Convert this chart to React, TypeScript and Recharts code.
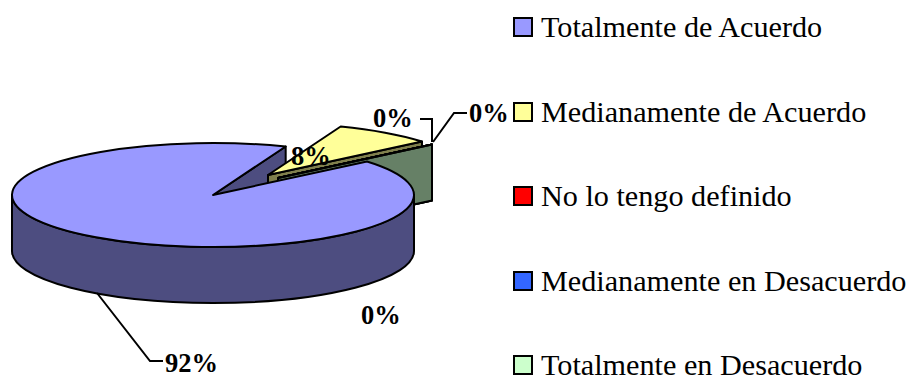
import React from 'react'
import { PieChart, Pie, Legend } from 'recharts'

const CATEGORIES = [
  'Totalmente de Acuerdo',
  'Medianamente de Acuerdo',
  'No lo tengo definido',
  'Medianamente en Desacuerdo',
  'Totalmente en Desacuerdo',
]
const VALUES = [92, 8, 0, 0, 0]
const COLORS = ['#9999FF', '#FFFF99', '#FF0000', '#3366FF', '#CCFFCC']
const WALL_COLORS = ['#4D4D80', '#80804D', '#800000', '#1A3380', '#668066']

const chartData = CATEGORIES.map((name, i) => ({ name, value: VALUES[i] }))

const SERIF = '"Liberation Serif", "Times New Roman", serif'
const FIRST_SLICE_ANGLE = 40
const TILT = 52 / 201
const DEPTH = 56
// how far each slice is pulled out of the pie
const EXPLODE = [
  [0, 0],
  [55, -20],
  [65, -17],
  [65, -17],
  [65, -17],
]

// label anchors, same order as the slices
const LABEL_ANCHORS = [
  [165, 372],
  [291, 165],
  [373, 127],
  [469, 122],
  [361, 324],
]
const LEADERS = [
  '97,293 150,361 163,361',
  '',
  '420,119 432,119 432,142',
  '433,142 454,113 467,113',
  '',
]

const rad = (deg: number) => (deg * Math.PI) / 180

function sliceGeometry(props: any) {
  const { cx, cy, outerRadius, startAngle, endAngle, index } = props
  const rx = outerRadius
  const ry = outerRadius * TILT
  const ax = cx + EXPLODE[index][0]
  const ay = cy + EXPLODE[index][1]
  const rim = (deg: number) => [ax + rx * Math.cos(rad(deg)), ay - ry * Math.sin(rad(deg))]
  return { rx, ry, ax, ay, rim, startAngle, endAngle, index }
}

// flat cut face running from the slice's tip out to its rim at the given angle
function wallPath(g: any, deg: number) {
  const [x, y] = g.rim(deg)
  return `M${g.ax},${g.ay} L${x},${y} L${x},${y + DEPTH} L${g.ax},${g.ay + DEPTH} Z`
}

function topPath(g: any) {
  const [sx, sy] = g.rim(g.startAngle)
  const [ex, ey] = g.rim(g.endAngle)
  const large = Math.abs(g.startAngle - g.endAngle) > 180 ? 1 : 0
  return `M${g.ax},${g.ay} L${sx},${sy} A${g.rx},${g.ry} 0 ${large} 1 ${ex},${ey} Z`
}

const outline = { stroke: '#000', strokeWidth: 2, strokeLinejoin: 'round' as const }

// everything behind the big slice: its far cut face and the pulled-out slices
function BackShape(props: any) {
  const g = sliceGeometry(props)
  if (g.index === 0) {
    return <path d={wallPath(g, g.endAngle)} fill={WALL_COLORS[0]} {...outline} />
  }
  return (
    <g>
      <path d={wallPath(g, g.endAngle)} fill={WALL_COLORS[g.index]} {...outline} />
      <path d={topPath(g)} fill={COLORS[g.index]} {...outline} />
    </g>
  )
}

// the big slice itself, drawn last so it hides the lower part of the others
function FrontShape(props: any) {
  const g = sliceGeometry(props)
  if (g.index !== 0) return <g />
  const { ax, ay, rx, ry } = g
  const side =
    `M${ax - rx},${ay} A${rx},${ry} 0 0 0 ${ax + rx},${ay} ` +
    `L${ax + rx},${ay + DEPTH} A${rx},${ry} 0 0 1 ${ax - rx},${ay + DEPTH} Z`
  return (
    <g>
      <path d={side} fill={WALL_COLORS[0]} {...outline} />
      <path d={topPath(g)} fill={COLORS[0]} {...outline} />
    </g>
  )
}

function renderLabel(props: any) {
  const i = props.index
  const [x, y] = LABEL_ANCHORS[i]
  return (
    <g key={i}>
      {LEADERS[i] && <polyline points={LEADERS[i]} fill="none" stroke="#000" strokeWidth={2} />}
      <text x={x} y={y} fontFamily={SERIF} fontWeight="bold" fontSize={26.5} fill="#000" textAnchor="start">
        {`${VALUES[i]}%`}
      </text>
    </g>
  )
}

function renderLegend() {
  return (
    <div style={{ fontFamily: SERIF, fontSize: 30.2, lineHeight: '24px', color: '#000' }}>
      {CATEGORIES.map((name, i) => (
        <div
          key={name}
          style={{ display: 'flex', alignItems: 'center', height: 24, marginBottom: i < 4 ? 60.5 : 0, whiteSpace: 'nowrap' }}
        >
          <span
            style={{
              width: 16,
              height: 16,
              marginRight: 8,
              border: '2px solid #000',
              background: COLORS[i],
              display: 'inline-block',
            }}
          />
          {name}
        </div>
      ))}
    </div>
  )
}

export default function App() {
  return (
    <div style={{ position: 'absolute', left: 0, top: 0 }}>
      <PieChart width={910} height={377} margin={{ top: 0, right: 0, bottom: 0, left: 0 }}>
        <Pie
          data={chartData}
          dataKey="value"
          cx={213}
          cy={195}
          outerRadius={201}
          startAngle={FIRST_SLICE_ANGLE}
          endAngle={FIRST_SLICE_ANGLE - 360}
          shape={BackShape}
          label={false}
          labelLine={false}
          isAnimationActive={false}
        />
        <Pie
          data={chartData}
          dataKey="value"
          cx={213}
          cy={195}
          outerRadius={201}
          startAngle={FIRST_SLICE_ANGLE}
          endAngle={FIRST_SLICE_ANGLE - 360}
          shape={FrontShape}
          label={renderLabel}
          labelLine={false}
          isAnimationActive={false}
        />
        <Legend content={renderLegend} wrapperStyle={{ position: 'absolute', left: 513, top: 15, width: 397 }} />
      </PieChart>
    </div>
  )
}
